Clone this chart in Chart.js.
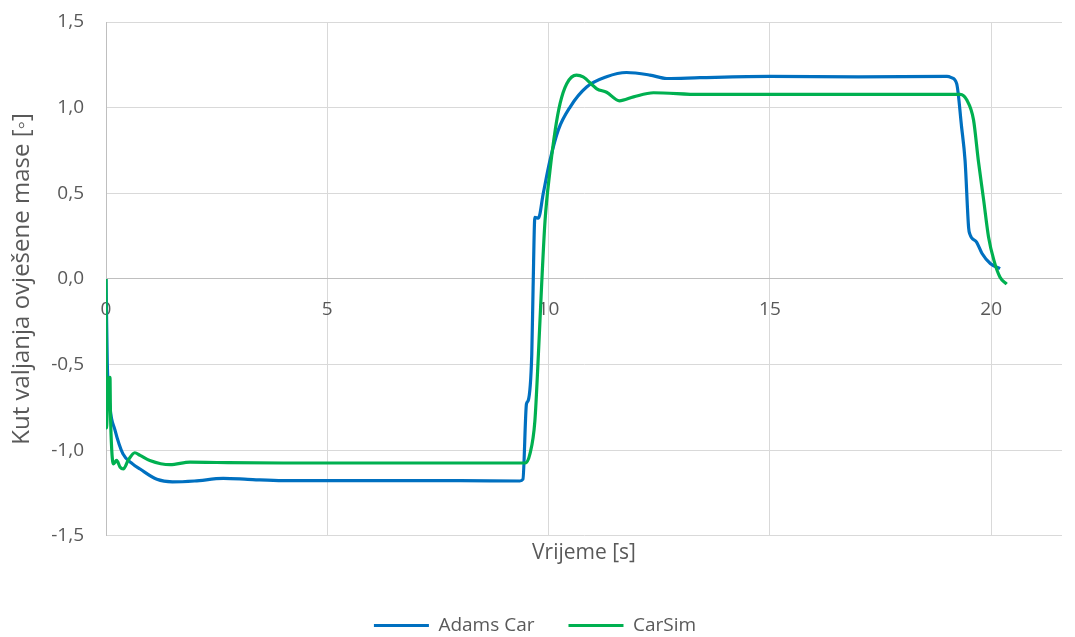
<!DOCTYPE html>
<html>
<head>
<meta charset="utf-8">
<script src="https://cdn.jsdelivr.net/npm/chart.js@4"></script>
<style>
  html, body { margin: 0; padding: 0; background: #fff; }
  #wrap { width: 1075px; height: 637px; }
</style>
</head>
<body>
<div id="wrap"><canvas id="myChart"></canvas></div>
<script>
const adamsT = [0, 0.03, 0.09, 0.2, 0.38, 0.6, 0.77, 1.15, 1.5, 2.0, 2.65, 3.2, 4, 6, 8, 9.35, 9.42, 9.5, 9.54, 9.62, 9.65, 9.69, 9.77, 9.88, 10.03, 10.22, 10.49, 10.86, 11.31, 11.76, 12.29, 12.67, 13.42, 15, 17, 19.0, 19.1, 19.22, 19.33, 19.41, 19.49, 19.52, 19.67, 19.79, 19.98, 20.2];
const adamsV = [0, -0.5, -0.75, -0.88, -1.02, -1.08, -1.11, -1.17, -1.185, -1.18, -1.165, -1.17, -1.178, -1.178, -1.178, -1.18, -1.17, -0.73, -0.71, -0.44, -0.05, 0.36, 0.355, 0.5, 0.69, 0.87, 1.005, 1.12, 1.18, 1.205, 1.19, 1.17, 1.175, 1.182, 1.18, 1.182, 1.175, 1.14, 0.89, 0.69, 0.3, 0.26, 0.215, 0.15, 0.09, 0.06];

const carsimT = [0, 0.01, 0.05, 0.09, 0.1, 0.13, 0.17, 0.24, 0.32, 0.39, 0.5, 0.65, 0.77, 0.99, 1.45, 1.9, 2.5, 4, 6, 8, 9.47, 9.58, 9.69, 9.77, 9.84, 9.92, 10.03, 10.15, 10.26, 10.41, 10.63, 10.78, 11.09, 11.31, 11.6, 11.92, 12.37, 13.42, 15, 17, 19.3, 19.45, 19.6, 19.71, 19.83, 19.94, 20.06, 20.2, 20.35];
const carsimV = [0, -0.87, -0.6, -0.575, -0.77, -1.0, -1.08, -1.06, -1.1, -1.11, -1.06, -1.015, -1.03, -1.06, -1.085, -1.07, -1.072, -1.075, -1.075, -1.075, -1.075, -1.02, -0.83, -0.44, -0.05, 0.34, 0.63, 0.87, 1.025, 1.14, 1.19, 1.18, 1.11, 1.09, 1.04, 1.063, 1.087, 1.077, 1.077, 1.077, 1.077, 1.044, 0.93, 0.69, 0.46, 0.245, 0.11, 0.01, -0.03];

const xMin = 0, xMax = 21.6, xStep = 5;
const yMin = -1.5, yMax = 1.5, yStep = 0.5;

const toPoints = (t, v) => t.map((x, i) => ({ x: x, y: v[i] }));
const fontFamily = "'Open Sans', 'Liberation Sans', sans-serif";
const textColor = "#595959";

// pull the legend closer to the bottom edge
const legendShift = {
  id: "legendShift",
  beforeInit(chart) {
    const fit = chart.legend.fit;
    chart.legend.fit = function () {
      fit.bind(chart.legend)();
      this.height -= 8;
    };
  },
};

const ctx = document.getElementById("myChart");
new Chart(ctx, {
  type: "scatter",
  data: {
    datasets: [
      {
        label: "Adams Car",
        data: toPoints(adamsT, adamsV),
        showLine: true,
        borderColor: "#0070C0",
        backgroundColor: "#0070C0",
        borderWidth: 3.2,
        pointRadius: 0,
        cubicInterpolationMode: "monotone",
        order: 2,
      },
      {
        label: "CarSim",
        data: toPoints(carsimT, carsimV),
        showLine: true,
        borderColor: "#00B050",
        backgroundColor: "#00B050",
        borderWidth: 3.2,
        pointRadius: 0,
        cubicInterpolationMode: "monotone",
        order: 1,
      },
    ],
  },
  options: {
    responsive: true,
    maintainAspectRatio: false,
    animation: false,
    layout: {
      padding: { left: 8, right: 13, top: 22, bottom: 0 },
    },
    plugins: {
      tooltip: { enabled: false },
      legend: {
        position: "bottom",
        reverse: true,
        labels: {
          boxWidth: 55,
          boxHeight: 3,
          padding: 34,
          color: textColor,
          font: { family: fontFamily, size: 19 },
          generateLabels: (chart) => {
            const items = Chart.defaults.plugins.legend.labels.generateLabels(chart);
            items.forEach((it) => { it.lineWidth = 0; });
            return items;
          },
        },
      },
    },
    scales: {
      x: {
        type: "linear",
        min: xMin,
        max: xMax,
        position: { y: 0 },
        grid: {
          color: "#d9d9d9",
          lineWidth: 1,
          drawTicks: false,
        },
        border: { color: "#bfbfbf", width: 1 },
        ticks: {
          stepSize: xStep,
          includeBounds: false,
          padding: 19,
          color: textColor,
          font: { family: fontFamily, size: 19 },
        },
      },
      x2: {
        type: "linear",
        min: xMin,
        max: xMax,
        position: "bottom",
        grid: { display: false, drawTicks: false },
        border: { display: false },
        ticks: { display: false },
        title: {
          display: true,
          text: "Vrijeme [s]",
          color: textColor,
          font: { family: fontFamily, size: 21 },
          padding: { top: 5, bottom: 16 },
        },
      },
      y: {
        min: yMin,
        max: yMax,
        afterFit: (scale) => {
          scale.width = 98;
          scale.paddingTop = 0;
          scale.paddingBottom = 0;
        },
        grid: {
          color: (c) => (c.tick && c.tick.value === 0 ? "#bfbfbf" : "#d9d9d9"),
          lineWidth: 1,
          drawTicks: false,
        },
        border: { color: "#bfbfbf", width: 1 },
        ticks: {
          stepSize: yStep,
          padding: 22,
          color: textColor,
          font: { family: fontFamily, size: 19 },
          callback: (v) => v.toFixed(1).replace(".", ","),
        },
        title: {
          display: true,
          text: "Kut valjanja ovješene mase [◦]",
          color: textColor,
          font: { family: fontFamily, size: 24 },
          padding: { top: 0, bottom: 6 },
        },
      },
    },
  },
  plugins: [legendShift],
});
</script>
</body>
</html>
